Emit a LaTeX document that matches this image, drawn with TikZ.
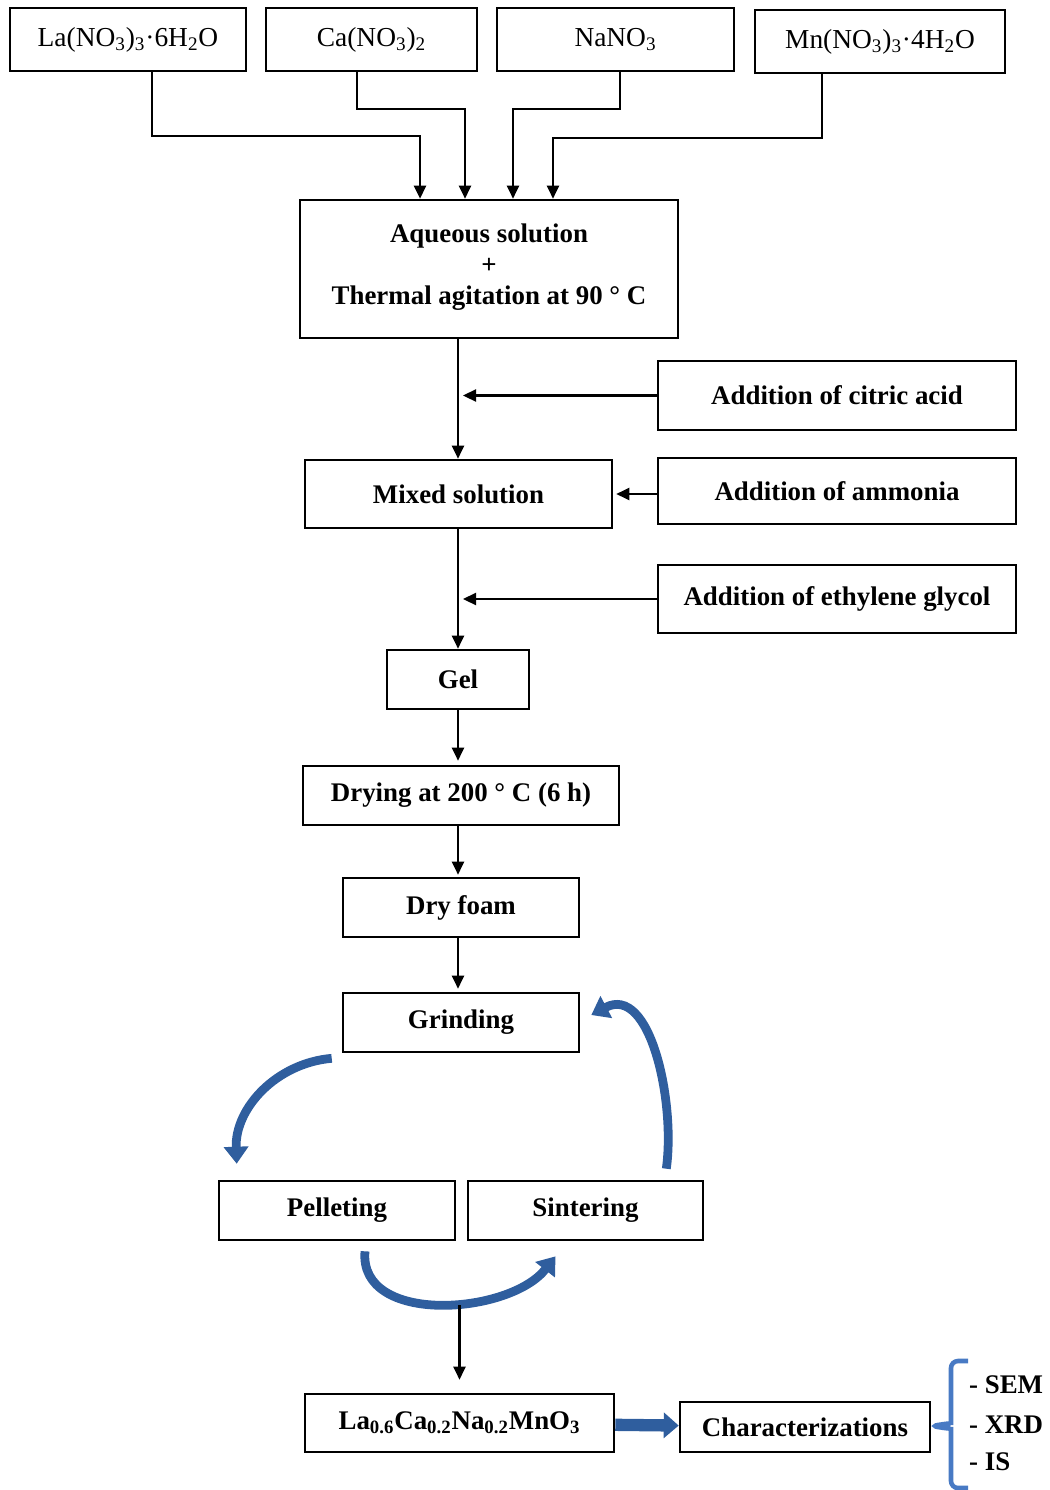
\documentclass[tikz,border=0pt]{standalone}
\usepackage{fontspec}
\setmainfont{Liberation Serif}
\usetikzlibrary{arrows.meta}
\definecolor{arcblue}{RGB}{47,94,158}
\definecolor{braceblue}{RGB}{72,122,196}
\tikzstyle{box}=[draw, line width=1.5pt, inner sep=0pt, font=\bfseries\fontsize{15.3}{17.5}\selectfont]
\tikzstyle{salt}=[box, font=\fontsize{15.6}{18.5}\selectfont, minimum height=1.26cm]
\tikzstyle{cycle}=[arcblue, line width=5pt, -{Triangle[length=0.34cm,width=0.48cm]}]
\tikzstyle{item}=[anchor=west, inner sep=0pt, font=\bfseries\fontsize{15.3}{18.5}\selectfont]

\begin{document}
\begin{tikzpicture}[x=0.02cm, y=-0.02cm, >={Triangle[length=0.26cm,width=0.24cm]}, line width=1.3pt]
\useasboundingbox (0,0) rectangle (1049,1490);

\node[salt, minimum width=4.72cm] at (128, 39.5) (la) {La(NO\textsubscript{3})\textsubscript{3}·6H\textsubscript{2}O};
\node[salt, minimum width=4.22cm] at (371.5, 39.5) (ca) {Ca(NO\textsubscript{3})\textsubscript{2}};
\node[salt, minimum width=4.74cm] at (615.5, 39.5) (na) {NaNO\textsubscript{3}};
\node[salt, minimum width=5cm] at (880, 41.5) (mn) {Mn(NO\textsubscript{3})\textsubscript{3}·4H\textsubscript{2}O};

\node[box, minimum width=7.56cm, minimum height=2.76cm, align=center] at (489, 269) (aq) {Aqueous solution\\+\\Thermal agitation at 90 ° C\\[-12pt]};

\node[box, minimum width=7.16cm, minimum height=1.38cm] at (837, 395.5) (citric) {Addition of citric acid};
\node[box, minimum width=6.14cm, minimum height=1.36cm] at (458.5, 494) (mixed) {Mixed solution};
\node[box, minimum width=7.16cm, minimum height=1.32cm] at (837, 491) (ammonia) {Addition of ammonia};
\node[box, minimum width=7.16cm, minimum height=1.36cm] at (837, 599) (glycol) {Addition of ethylene glycol};

\node[box, minimum width=2.84cm, minimum height=1.18cm] at (458, 679.5) (gel) {Gel};
\node[box, minimum width=6.32cm, minimum height=1.18cm] at (461, 795.5) (drying) {Drying at 200 ° C (6 h)};
\node[box, minimum width=4.72cm, minimum height=1.18cm] at (461, 907.5) (foam) {Dry foam};
\node[box, minimum width=4.72cm, minimum height=1.18cm] at (461, 1022.5) (grind) {Grinding};
\node[box, minimum width=4.72cm, minimum height=1.18cm] at (337, 1210.5) (pellet) {Pelleting};
\node[box, minimum width=4.7cm, minimum height=1.18cm] at (585.5, 1210.5) (sinter) {Sintering};
\coordinate (cyc) at (459.5, 1305);

\node[box, minimum width=6.18cm, minimum height=1.16cm] at (459.5, 1423) (product) {La\textsubscript{0.6}Ca\textsubscript{0.2}Na\textsubscript{0.2}MnO\textsubscript{3}};
\node[box, minimum width=5cm, minimum height=1cm] at (805, 1427) (charac) {Characterizations};

\node[item] at (968, 1385) (sem) {- SEM};
\node[item] at (968, 1425) (xrd) {- XRD};
\node[item] at (968, 1462) (is) {- IS};

\draw[->] ([xshift=0.48cm]la.south) -- ++(0,64) -| ([xshift=-1.38cm]aq.north);
\draw[->] ([xshift=-0.29cm]ca.south) -- ++(0,37) -| ([xshift=-0.48cm]aq.north);
\draw[->] ([xshift=0.09cm]na.south) -- ++(0,37) -| ([xshift=0.48cm]aq.north);
\draw[->] ([xshift=-1.16cm]mn.south) -- ++(0,64) -| ([xshift=1.28cm]aq.north);

\draw[->] (gel.north |- aq.south) -- (gel.north |- mixed.north);
\draw[->, shorten >=0.1cm] (citric.west) -- (citric.west -| gel.north);
\draw[->, shorten >=0.06cm] (ammonia.west |- mixed.east) -- (mixed.east);
\draw[->] (gel.north |- mixed.south) -- (gel.north);
\draw[->, shorten >=0.1cm] (glycol.west) -- (glycol.west -| gel.north);
\draw[->, shorten >=0.08cm] (gel.south) -- (drying.north -| gel.south);
\draw[->, shorten >=0.04cm] (drying.south -| gel.south) -- (foam.north -| gel.south);
\draw[->, shorten >=0.06cm] (foam.south -| gel.south) -- (grind.north -| gel.south);

\draw[cycle] ([xshift=-0.2cm,yshift=-0.1cm]grind.south west) to[out=185, in=92] ([xshift=0.38cm,yshift=0.32cm]pellet.north west);
\draw[cycle] ([xshift=0.56cm,yshift=-0.2cm]pellet.south) to[out=-95, in=-128] ([xshift=-0.6cm,yshift=-0.3cm]sinter.south);
\draw[cycle] ([xshift=-0.76cm,yshift=0.22cm]sinter.north east) to[out=82, in=28] ([xshift=0.22cm,yshift=0.15cm]grind.east);

\draw[->, shorten >=0.26cm] (cyc) -- (product.north);
\draw[arcblue, line width=7pt, -{Triangle[length=0.3cm,width=0.5cm]}] (product) -- (charac);

\draw[braceblue, line width=2.6pt, rounded corners=4pt] (968,1361) -- (951,1361) -- (951,1418) .. controls (951,1423) .. (931,1426) .. controls (951,1429) .. (951,1434) -- (951,1488) -- (968,1488);

\end{tikzpicture}
\end{document}
